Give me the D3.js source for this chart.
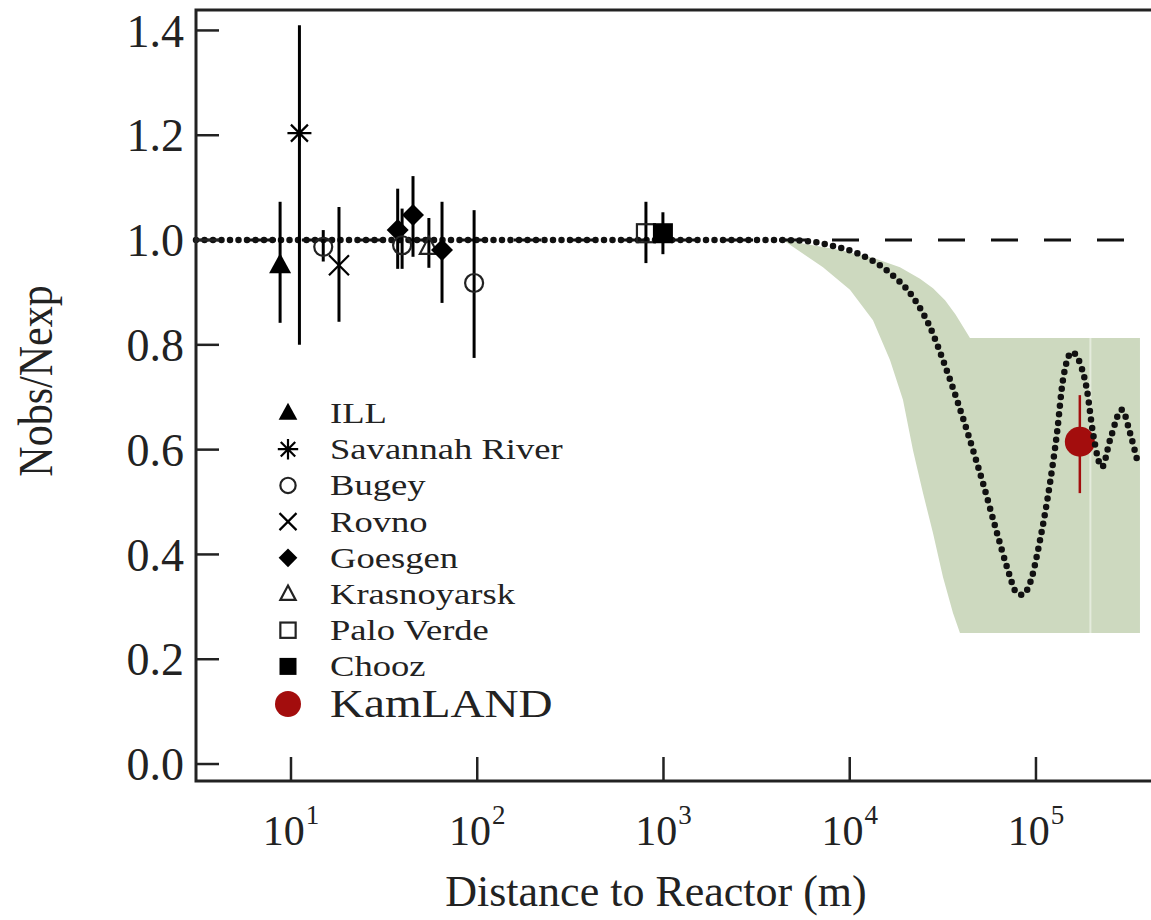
<!DOCTYPE html>
<html>
<head>
<meta charset="utf-8">
<script src="https://cdn.jsdelivr.net/npm/d3@7"></script>
<style>
  body { margin: 0; background: #fff; }
  svg { display: block; font-family: "Liberation Serif", "Times New Roman", serif; }
</style>
</head>
<body>
<div id="chart"></div>
<script>
// Reactor experiments (legend order)
const experiments = ['ILL', 'Savannah River', 'Bugey', 'Rovno', 'Goesgen', 'Krasnoyarsk', 'Palo Verde', 'Chooz'];

// Individual measurements: experiment, distance (m), ratio, error bar top / bottom
const pointExp   = ['ILL', 'Savannah River', 'Bugey', 'Rovno', 'Goesgen', 'Bugey', 'Goesgen', 'Krasnoyarsk', 'Goesgen', 'Bugey', 'Palo Verde', 'Chooz'];
const pointDist  = [8.74, 11.1, 14.9, 18.1, 37.4, 39.5, 45.2, 55, 64.7, 96.2, 805, 993];
const pointRatio = [0.952, 1.204, 0.987, 0.952, 1.019, 0.99, 1.048, 0.987, 0.981, 0.918, 1.013, 1.013];
const pointHi    = [1.073, 1.41, 1.019, 1.063, 1.098, 1.06, 1.122, 1.042, 1.073, 1.057, 1.073, 1.053];
const pointLo    = [0.842, 0.80, 0.959, 0.844, 0.945, 0.945, 0.968, 0.947, 0.880, 0.775, 0.956, 0.973];

// KamLAND
const kamDist = 172000;
const kamRatio = 0.615;
const kamHi = 0.704;
const kamLo = 0.517;

// Oscillation expectation (dotted curve)
const curveDist  = [3.09, 100, 1000, 2575, 4222, 5895, 7834, 10940, 16450, 21860, 26970, 31670, 37650, 44220, 51930, 61750, 69880, 79070, 84090, 92860, 105100, 118900, 129700, 139600, 156100, 172300, 187800, 202300, 226200, 249700, 289500, 319700, 352900];
const curveRatio = [1.0, 1.0, 1.0, 1.0, 1.0, 0.998, 0.99, 0.975, 0.937, 0.891, 0.834, 0.771, 0.695, 0.618, 0.536, 0.441, 0.376, 0.326, 0.323, 0.345, 0.427, 0.536, 0.632, 0.733, 0.786, 0.765, 0.714, 0.632, 0.567, 0.618, 0.676, 0.632, 0.574];

// Allowed region (green band): upper edge then lower edge
const bandUpperDist  = [4381, 8865, 13330, 18610, 23840, 28000, 32500, 37000, 41000, 44220, 361700];
const bandUpperRatio = [1.0, 0.981, 0.966, 0.948, 0.926, 0.908, 0.885, 0.858, 0.832, 0.813, 0.813];
const bandLowerDist  = [4381, 7185, 10030, 13330, 16450, 19310, 21860, 24740, 27990, 31670, 35850, 39070, 361700];
const bandLowerRatio = [1.0, 0.948, 0.905, 0.847, 0.771, 0.695, 0.599, 0.517, 0.441, 0.357, 0.288, 0.250, 0.250];
const bandSeam = 196000;

// No-oscillation reference line
const refDist = [3.09, 308000];
const refRatio = 1.0;

// Axis ticks
const xTicks = [1e1, 1e2, 1e3, 1e4, 1e5];
const xTickExp = ['1', '2', '3', '4', '5'];
const yTicks = [0.0, 0.2, 0.4, 0.6, 0.8, 1.0, 1.2, 1.4];

const W = 1151, H = 920;
const margin = { top: 10, left: 196, right: 0, bottom: 139 };

const svg = d3.select('#chart').append('svg')
  .attr('width', W)
  .attr('height', H);

const x = d3.scaleLog()
  .domain([3.09, 414600])
  .range([margin.left, W - margin.right]);

const y = d3.scaleLinear()
  .domain([-0.0324, 1.439])
  .range([H - margin.bottom, margin.top]);

const bandColor = '#cdd9bf';
const kamColor = '#a30d0d';

// Green band
const bandPts = bandUpperDist.map((d, i) => [d, bandUpperRatio[i]])
  .concat(bandLowerDist.map((d, i) => [d, bandLowerRatio[i]]).reverse());
const polyLine = d3.line().x(d => x(d[0])).y(d => y(d[1])).curve(d3.curveLinear);
svg.append('path')
  .attr('d', polyLine(bandPts) + 'Z')
  .attr('fill', bandColor);

// faint seam in the band
svg.append('line')
  .attr('x1', x(bandSeam)).attr('x2', x(bandSeam))
  .attr('y1', y(bandUpperRatio[bandUpperRatio.length - 1]))
  .attr('y2', y(bandLowerRatio[bandLowerRatio.length - 1]))
  .attr('stroke', '#e4ebdc')
  .attr('stroke-width', 2);

// Dashed reference line at 1.0
svg.append('line')
  .attr('x1', x(refDist[0])).attr('x2', x(refDist[1]))
  .attr('y1', y(refRatio)).attr('y2', y(refRatio))
  .attr('stroke', '#111')
  .attr('stroke-width', 3)
  .attr('stroke-dasharray', '27,26');

// KamLAND point
svg.append('line')
  .attr('x1', x(kamDist)).attr('x2', x(kamDist))
  .attr('y1', y(kamHi)).attr('y2', y(kamLo))
  .attr('stroke', kamColor)
  .attr('stroke-width', 2.5);
svg.append('circle')
  .attr('cx', x(kamDist)).attr('cy', y(kamRatio))
  .attr('r', 15)
  .attr('fill', kamColor);

// Dotted oscillation curve
const curveLine = d3.line()
  .x(d => x(d[0]))
  .y(d => y(d[1]))
  .curve(d3.curveMonotoneX);
svg.append('path')
  .attr('d', curveLine(curveDist.map((d, i) => [d, curveRatio[i]])))
  .attr('fill', 'none')
  .attr('stroke', '#111')
  .attr('stroke-width', 6.5)
  .attr('stroke-linecap', 'round')
  .attr('stroke-dasharray', '0,8.5');

// Marker drawing helper
function drawMarker(g, name, cx, cy, s) {
  const k = s || 1;
  const sw = 2.2;
  switch (name) {
    case 'ILL':
      g.append('path')
        .attr('d', `M${cx},${cy - 12 * k}L${cx + 11 * k},${cy + 8 * k}L${cx - 11 * k},${cy + 8 * k}Z`)
        .attr('fill', '#000');
      break;
    case 'Savannah River': {
      const r = 12 * k, a = 8.5 * k;
      g.append('path')
        .attr('d', `M${cx},${cy - r}L${cx},${cy + r}M${cx - a},${cy - a}L${cx + a},${cy + a}M${cx - a},${cy + a}L${cx + a},${cy - a}M${cx - r},${cy}L${cx + r},${cy}`)
        .attr('stroke', '#000').attr('stroke-width', sw).attr('fill', 'none');
      break;
    }
    case 'Bugey':
      g.append('circle')
        .attr('cx', cx).attr('cy', cy).attr('r', 9 * k)
        .attr('fill', 'none').attr('stroke', '#222').attr('stroke-width', sw);
      break;
    case 'Rovno': {
      const a = 10 * k;
      g.append('path')
        .attr('d', `M${cx - a},${cy - a}L${cx + a},${cy + a}M${cx - a},${cy + a}L${cx + a},${cy - a}`)
        .attr('stroke', '#000').attr('stroke-width', sw).attr('fill', 'none');
      break;
    }
    case 'Goesgen':
      g.append('path')
        .attr('d', `M${cx},${cy - 11 * k}L${cx + 11 * k},${cy}L${cx},${cy + 11 * k}L${cx - 11 * k},${cy}Z`)
        .attr('fill', '#000');
      break;
    case 'Krasnoyarsk':
      g.append('path')
        .attr('d', `M${cx},${cy - 10 * k}L${cx + 9 * k},${cy + 7 * k}L${cx - 9 * k},${cy + 7 * k}Z`)
        .attr('fill', 'none').attr('stroke', '#222').attr('stroke-width', sw);
      break;
    case 'Palo Verde':
      g.append('rect')
        .attr('x', cx - 9 * k).attr('y', cy - 9 * k)
        .attr('width', 18 * k).attr('height', 18 * k)
        .attr('fill', 'none').attr('stroke', '#222').attr('stroke-width', sw);
      break;
    case 'Chooz':
      g.append('rect')
        .attr('x', cx - 10 * k).attr('y', cy - 10 * k)
        .attr('width', 20 * k).attr('height', 20 * k)
        .attr('fill', '#000');
      break;
  }
}

// Reactor measurements: error bars then markers
const pts = svg.append('g');
pointDist.forEach((d, i) => {
  pts.append('line')
    .attr('x1', x(d)).attr('x2', x(d))
    .attr('y1', y(pointHi[i])).attr('y2', y(pointLo[i]))
    .attr('stroke', '#000')
    .attr('stroke-width', 3);
});
pointDist.forEach((d, i) => {
  drawMarker(pts, pointExp[i], x(d), y(pointRatio[i]), 1);
});

// Frame: left, top, bottom spines
const axisColor = '#222';
svg.append('path')
  .attr('d', `M${W},${margin.top}H${margin.left}V${H - margin.bottom}H${W}`)
  .attr('fill', 'none')
  .attr('stroke', axisColor)
  .attr('stroke-width', 3);

// Y ticks (inward) and labels
const yAxis = svg.append('g');
yTicks.forEach(t => {
  yAxis.append('line')
    .attr('x1', margin.left).attr('x2', margin.left + 23)
    .attr('y1', y(t)).attr('y2', y(t))
    .attr('stroke', axisColor).attr('stroke-width', 2.5);
  yAxis.append('text')
    .attr('x', margin.left - 12)
    .attr('y', y(t))
    .attr('dy', '0.35em')
    .attr('text-anchor', 'end')
    .attr('font-size', 46)
    .attr('fill', '#222')
    .text(d3.format('.1f')(t));
});

// X ticks (inward) and labels
const xAxis = svg.append('g');
xTicks.forEach((t, i) => {
  xAxis.append('line')
    .attr('x1', x(t)).attr('x2', x(t))
    .attr('y1', H - margin.bottom).attr('y2', H - margin.bottom - 24)
    .attr('stroke', axisColor).attr('stroke-width', 2.5);
  const lbl = xAxis.append('text')
    .attr('x', x(t))
    .attr('y', 845)
    .attr('text-anchor', 'middle')
    .attr('font-size', 42)
    .attr('fill', '#222');
  lbl.append('tspan').text('10');
  lbl.append('tspan')
    .attr('dx', 1)
    .attr('dy', -21)
    .attr('font-size', 27)
    .text(xTickExp[i]);
});

// Axis titles
svg.append('text')
  .attr('x', 656)
  .attr('y', 906)
  .attr('text-anchor', 'middle')
  .attr('font-size', 44)
  .attr('fill', '#222')
  .text('Distance to Reactor (m)');

svg.append('text')
  .attr('transform', 'translate(52,381) scale(1.15,1) rotate(-90)')
  .attr('text-anchor', 'middle')
  .attr('font-size', 42)
  .attr('fill', '#222')
  .text('Nobs/Nexp');

// Legend
const legend = svg.append('g');
const legX = 288, legTextX = 330, legY0 = 413, legStep = 36.2;
experiments.forEach((name, i) => {
  const cy = legY0 + i * legStep;
  drawMarker(legend, name, legX, cy, 0.85);
  legend.append('text')
    .attr('transform', `translate(${legTextX},${cy + 10}) scale(1.22,1)`)
    .attr('font-size', 30)
    .attr('fill', '#222')
    .text(name);
});
legend.append('circle')
  .attr('cx', legX).attr('cy', 704)
  .attr('r', 13)
  .attr('fill', kamColor);
legend.append('text')
  .attr('transform', `translate(${legTextX},717) scale(1.15,1)`)
  .attr('font-size', 41)
  .attr('fill', '#222')
  .text('KamLAND');
</script>
</body>
</html>
